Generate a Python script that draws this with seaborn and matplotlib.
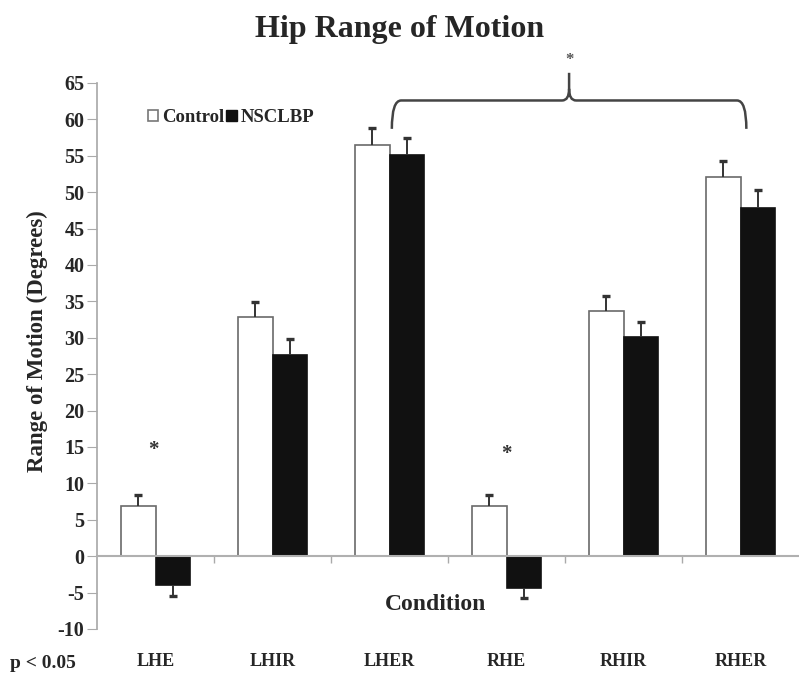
import numpy as np
import pandas as pd
import matplotlib
matplotlib.use("Agg")
import matplotlib.pyplot as plt
from matplotlib.path import Path
from matplotlib.patches import PathPatch, Patch
import seaborn as sns

conditions = ["LHE", "LHIR", "LHER", "RHE", "RHIR", "RHER"]
groups = ["Control", "NSCLBP"]
control_vals = [6.9, 32.9, 56.5, 6.9, 33.7, 52.1]
control_err = [1.5, 2.0, 2.3, 1.5, 2.1, 2.2]
nsclbp_vals = [-3.9, 27.6, 55.1, -4.4, 30.1, 47.8]
nsclbp_err = [1.5, 2.2, 2.3, 1.4, 2.1, 2.5]
yticks = list(range(-10, 70, 5))

sns.set_theme(style="white")
plt.rcParams["font.family"] = ["Liberation Serif", "DejaVu Serif"]
plt.rcParams["font.weight"] = "bold"
plt.rcParams["axes.unicode_minus"] = False

df = pd.DataFrame({
    "Condition": conditions * 2,
    "Group": [groups[0]] * 6 + [groups[1]] * 6,
    "Value": control_vals + nsclbp_vals,
    "Err": control_err + nsclbp_err,
})

fig = plt.figure(figsize=(7.99, 6.74), dpi=100)
ax = fig.add_axes([97 / 799, 45 / 674, 702 / 799, 546 / 674])

sns.barplot(data=df, x="Condition", y="Value", hue="Group", order=conditions,
            hue_order=groups, palette={"Control": "white", "NSCLBP": "#111111"},
            width=0.59, errorbar=None, linewidth=1.2, legend=False, ax=ax)

edgecols = ["#6a6a6a", "#111111"]
for cont, ec, g in zip(ax.containers, edgecols, groups):
    for p in cont:
        p.set_edgecolor(ec)
    sub = df[df.Group == g].set_index("Condition").loc[conditions]
    xc = np.array([p.get_x() + p.get_width() / 2 for p in cont])
    vals = sub.Value.to_numpy()
    errs = sub.Err.to_numpy()
    lower = np.where(vals < 0, errs, 0)
    upper = np.where(vals >= 0, errs, 0)
    ax.errorbar(xc, vals, yerr=[lower, upper], fmt="none", ecolor="#333333",
                elinewidth=1.4, capsize=0, zorder=5)
    ends = vals + upper - lower
    ax.plot(xc, ends, linestyle="none", marker="_", markersize=6,
            markeredgewidth=2.4, color="#333333", zorder=6)

ax.set_ylim(-10, 65)
ax.set_xlim(-0.5, 5.5)
ax.set_yticks(yticks)
ax.tick_params(axis="y", which="major", direction="out", length=7, width=0.8,
               color="#aaaaaa", labelsize=14.5, pad=2, left=True)
for lab in ax.get_yticklabels():
    lab.set_fontweight("bold")

ax.spines["top"].set_visible(False)
ax.spines["right"].set_visible(False)
ax.spines["left"].set_color("#aaaaaa")
ax.spines["bottom"].set_color("#b0b0b0")
ax.spines["bottom"].set_linewidth(1.5)
ax.spines["bottom"].set_position(("data", 0))

ax.set_xticks(range(len(conditions)))
ax.set_xticklabels(conditions)
ax.set_xticks(np.arange(0.5, len(conditions) - 0.5, 1), minor=True)
ax.tick_params(axis="x", which="major", length=0, labelsize=13, pad=70)
ax.tick_params(axis="x", which="minor", bottom=True, direction="out", length=5,
               color="#aaaaaa")
for lab in ax.get_xticklabels():
    lab.set_fontweight("bold")

ax.set_xlabel("Condition", fontsize=17, fontweight="bold")
ax.xaxis.set_label_coords((436 - 97) / 702, (629 - 594) / 546)
ax.set_ylabel("Range of Motion (Degrees)", fontsize=16.5, fontweight="bold")
ax.yaxis.set_label_coords((48 - 97) / 702, (629 - 341) / 546)

fig.text(0.5, 1 - 29 / 674, "Hip Range of Motion", ha="center", va="center",
         fontsize=23, fontweight="bold")
fig.text(10 / 799, 1 - 664 / 674, "p < 0.05", ha="left", va="center",
         fontsize=14, fontweight="bold")

handles = [Patch(facecolor="white", edgecolor="#777777", linewidth=1.2),
           Patch(facecolor="#111111", edgecolor="#111111")]
ax.legend(handles, groups, loc="upper left", ncol=2, frameon=False,
          bbox_to_anchor=((148 - 97) / 702, (629 - 109) / 546),
          handlelength=0.55, handleheight=0.55, handletextpad=0.2, columnspacing=0.1,
          borderaxespad=0, borderpad=0, prop={"weight": "bold", "size": 13.5})

# significance markers
ax.text(0 - 0.02, 14.6, "*", ha="center", va="center", fontsize=15, color="#333333")
ax.text(3 + 0.0, 14.1, "*", ha="center", va="center", fontsize=15, color="#333333")

# brace over external rotation conditions
x0 = conditions.index("LHER") + 0.02
x1 = conditions.index("RHER") + 0.05
xm = (x0 + x1) / 2
y_tip, y_h, y_peak = 58.7, 62.6, 66.4
verts = [(x0, y_tip), (x0, y_h), (x0 + 0.08, y_h), (xm - 0.06, y_h),
         (xm, y_h), (xm, y_h + 1.6), (xm, y_peak),
         (xm, y_h + 1.6), (xm, y_h), (xm + 0.06, y_h),
         (x1 - 0.08, y_h), (x1, y_h), (x1, y_tip)]
codes = [Path.MOVETO, Path.CURVE3, Path.CURVE3, Path.LINETO,
         Path.CURVE3, Path.CURVE3, Path.LINETO,
         Path.MOVETO, Path.CURVE3, Path.CURVE3,
         Path.LINETO, Path.CURVE3, Path.CURVE3]
ax.add_patch(PathPatch(Path(verts, codes), fill=False, edgecolor="#444444",
                       linewidth=1.8, clip_on=False, transform=ax.transData))
ax.text(xm, 68.2, "*", ha="center", va="center", fontsize=12, color="#555555")

fig.savefig("out.png", dpi=100)
